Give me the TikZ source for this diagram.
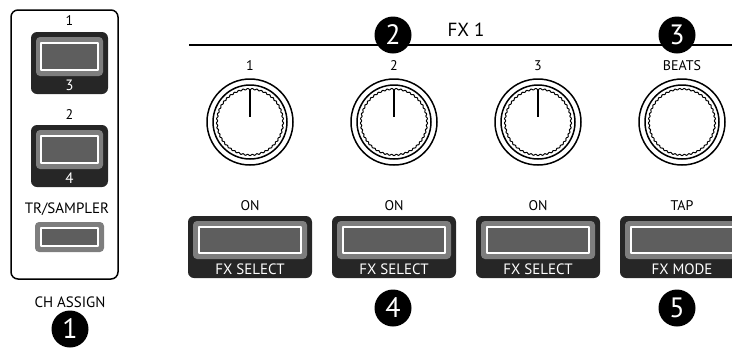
\documentclass[tikz,border=0pt]{standalone}
\usepackage{fontspec}
\setmainfont{PT Sans}
\definecolor{btndark}{HTML}{262626}
\definecolor{btnmid}{HTML}{7E7E7E}
\definecolor{btninner}{HTML}{5E5E5E}
\tikzset{
  lbl/.style={font=\fontsize{14}{14}\selectfont, inner sep=0pt, anchor=center},
  wlbl/.style={font=\fontsize{15}{15}\selectfont, inner sep=0pt, text=white, anchor=center},
  badge/.style={circle, fill=black, text=white, minimum size=37pt, inner sep=0pt, font=\fontsize{28}{28}\selectfont},
  darkbox/.style={fill=btndark, rounded corners=6pt},
  midbox/.style={fill=btnmid, rounded corners=4pt},
  innerbox/.style={fill=btninner, draw=white, line width=1.5pt},
  knobline/.style={line width=1.5pt},
}
\begin{document}
\begin{tikzpicture}[x=1pt,y=-1pt,line join=round]
\useasboundingbox (0,0) rectangle (732,349);
% ---------- left panel (CH ASSIGN)
\draw[line width=1.5pt, rounded corners=7pt] (11,10) rectangle (118,279);
% button 1/3
\fill[darkbox] (31,32) rectangle (108,94);
\fill[midbox] (36,37) rectangle (103,76);
\draw[innerbox] (41,43) rectangle (98,70);
\node[lbl] (ch1) at (69.5,21) {1};
\node[wlbl] (ch3) at (69.5,85) {3};
% button 2/4
\fill[darkbox] (31,125) rectangle (108,187);
\fill[midbox] (36,130) rectangle (103,169);
\draw[innerbox] (41,136) rectangle (98,163);
\node[lbl] (ch2) at (69.5,115) {2};
\node[wlbl] (ch4) at (69.5,178) {4};
% TR/SAMPLER
\node[lbl,font=\fontsize{15}{15}\selectfont] (trs) at (67,209) {TR/SAMPLER};
\fill[midbox] (35,222) rectangle (104,252);
\draw[innerbox] (41,228) rectangle (98,246);
\node[lbl,font=\fontsize{15}{15}\selectfont] (chassign) at (70,302) {CH ASSIGN};
\node[badge] (b1) at (70,329) {1};
% ---------- FX 1 header
\draw[line width=2pt] (189,45) -- (732,45);
\node[font=\fontsize{19}{19}\selectfont, inner sep=0pt] (fx1) at (466,30) {FX 1};
\node[badge] (b2) at (393,35) {2};
\node[badge] (b3) at (677,35) {3};
% ---------- knobs
\foreach \i/\t in {0/1,1/2,2/3,3/BEATS} {
  \begin{scope}[shift={(250+144*\i,122)}]
    \draw[knobline] (0,0) circle (43);
    \draw[knobline] (0,0) circle (37);
    \draw[line width=1pt] plot[domain=0:360,samples=361] (\x:{33+0.6*sin(45*\x)}) -- cycle;
  \end{scope}
  \node[lbl] (k\i) at (250+144*\i,66) {\t};
}
\foreach \i in {0,1,2} {
  \draw[line width=1.6pt] (250+144*\i,89) -- (250+144*\i,117);
}
% ---------- buttons
\foreach \i/\top/\bot in {0/ON/FX SELECT,1/ON/FX SELECT,2/ON/FX SELECT,3/TAP/FX MODE} {
  \begin{scope}[shift={(250+144*\i,0)}]
    \fill[darkbox] (-62,216) rectangle (62,278);
    \fill[midbox] (-57,221) rectangle (57,259);
    \draw[innerbox] (-51,227) rectangle (51,253);
  \end{scope}
  \node[lbl] (t\i) at (250+144*\i,206) {\top};
  \node[wlbl] (s\i) at (250+144*\i,269) {\bot};
}
\node[badge] (b4) at (393,308) {4};
\node[badge] (b5) at (677,308) {5};
\end{tikzpicture}
\end{document}
